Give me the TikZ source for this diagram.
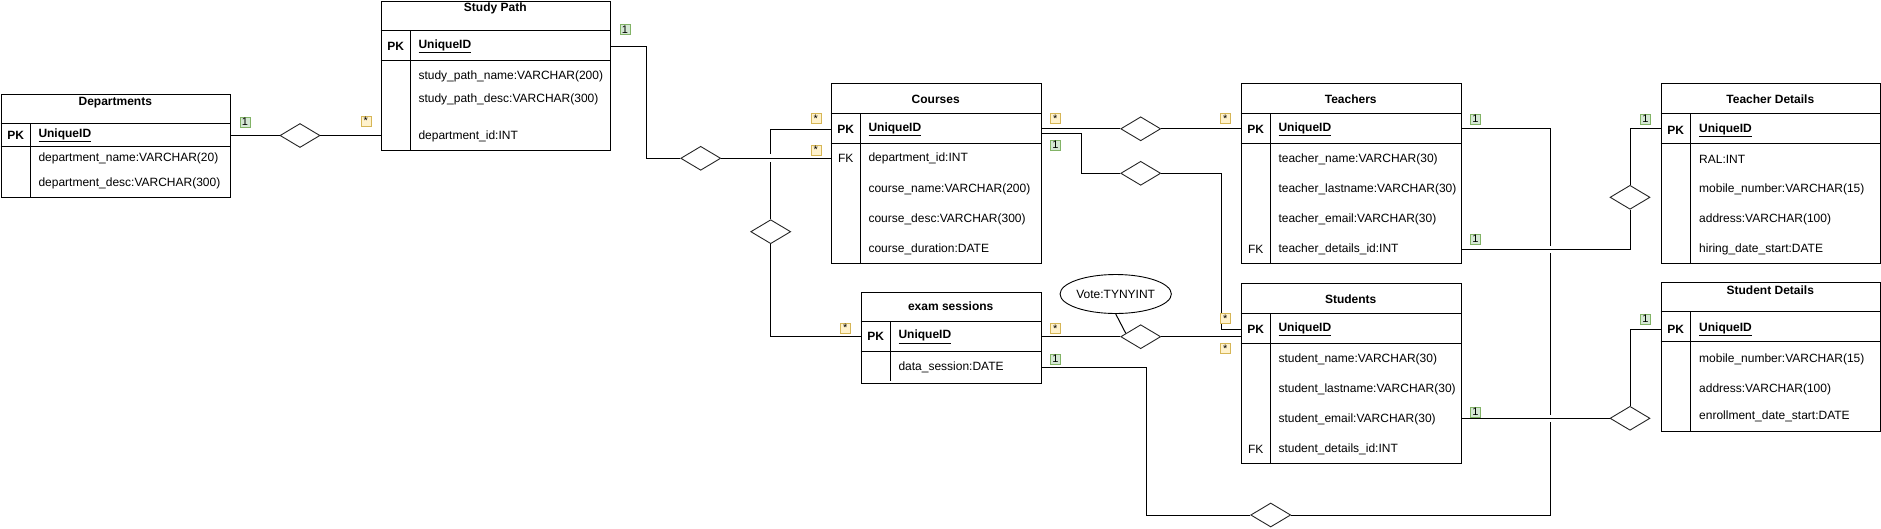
\documentclass[tikz,border=0pt]{standalone}
\usepackage{fontspec}
\setmainfont{Liberation Sans}
\usetikzlibrary{shapes.geometric,calc}
\definecolor{onefill}{HTML}{D5E8D4}
\definecolor{oneline}{HTML}{82B366}
\definecolor{manyfill}{HTML}{FFF2CC}
\definecolor{manyline}{HTML}{D6B656}
\tikzset{
  tbl/.style={draw, line width=1pt, rectangle, inner sep=0pt, anchor=north west},
  ttl/.style={font=\fontsize{12}{14}\selectfont\bfseries, inner sep=0pt},
  key/.style={font=\fontsize{12}{14}\selectfont\bfseries, inner sep=0pt},
  fkey/.style={font=\fontsize{12}{14}\selectfont, inner sep=0pt},
  fld/.style={font=\fontsize{12}{14}\selectfont, anchor=west, inner sep=0pt},
  idfld/.style={fld, font=\fontsize{12}{14}\selectfont\bfseries},
  rel/.style={draw=black!85, diamond, line width=0.9pt, minimum width=40pt, minimum height=24pt, inner sep=0pt, fill=white},
  link/.style={line width=1pt},
  one/.style={draw=oneline, fill=onefill, font=\fontsize{11}{11}\selectfont, inner sep=0pt, minimum width=10pt, minimum height=10pt},
  many/.style={draw=manyline, fill=manyfill, font=\fontsize{11}{11}\selectfont, inner sep=0pt, minimum width=10pt, minimum height=10pt}
}
\begin{document}
\begin{tikzpicture}[x=1pt,y=-1pt]
\useasboundingbox (0,0) rectangle (1881,528);

% Departments
\node[tbl, minimum width=229.3pt, minimum height=102.7pt] (dep) at (0.7,94) {};
\draw[link] (0.7,123.3) -- (230,123.3) (0.7,146.7) -- (230,146.7) (30.7,123.3) -- (30.7,196.7);
\node[ttl] (dep-t) at (115.3,102.7) {Departments};
\node[key] (dep-pk) at (15.7,135) {PK};
\node[idfld] (dep-id) at (38.3,135) {\underline{UniqueID}};
\foreach \y/\t [count=\i] in {158.3/department\_name:VARCHAR(20), 183.3/department\_desc:VARCHAR(300)}
  \node[fld] (dep-f\i) at (38.3,\y) {\t};

% Study Path
\node[tbl, minimum width=229.3pt, minimum height=149pt] (sp) at (380.7,1) {};
\draw[link] (380.7,30.7) -- (610,30.7) (380.7,60.7) -- (610,60.7) (410.7,30.7) -- (410.7,150);
\node[ttl] (sp-t) at (495.3,8.3) {Study Path};
\node[key] (sp-pk) at (395.7,46) {PK};
\node[idfld] (sp-id) at (418.3,46) {\underline{UniqueID}};
\foreach \y/\t [count=\i] in {76.7/study\_path\_name:VARCHAR(200), 99/study\_path\_desc:VARCHAR(300), 136/department\_id:INT}
  \node[fld] (sp-f\i) at (418.3,\y) {\t};

% Courses
\node[tbl, minimum width=210pt, minimum height=180pt] (cou) at (830.7,83.3) {};
\draw[link] (830.7,113.3) -- (1040.7,113.3) (830.7,143.3) -- (1040.7,143.3) (860.7,113.3) -- (860.7,263.3);
\node[ttl] (cou-t) at (935.7,99) {Courses};
\node[key] (cou-pk) at (845.7,129.3) {PK};
\node[idfld] (cou-id) at (868.3,129.3) {\underline{UniqueID}};
\node[fkey] (cou-fk) at (845.7,158.3) {FK};
\foreach \y/\t [count=\i] in {158.3/department\_id:INT, 189/course\_name:VARCHAR(200), 219/course\_desc:VARCHAR(300), 249/course\_duration:DATE}
  \node[fld] (cou-f\i) at (868.3,\y) {\t};

% exam sessions
\node[tbl, minimum width=180pt, minimum height=91.6pt] (exam) at (860.7,291.7) {};
\draw[link] (860.7,321.7) -- (1040.7,321.7) (860.7,351.3) -- (1040.7,351.3) (890.7,321.7) -- (890.7,380.7);
\node[ttl] (exam-t) at (950.7,306) {exam sessions};
\node[key] (exam-pk) at (875.7,336.7) {PK};
\node[idfld] (exam-id) at (898.3,336.7) {\underline{UniqueID}};
\node[fld] (exam-f1) at (898.3,367.3) {data\_session:DATE};

% Teachers
\node[tbl, minimum width=220pt, minimum height=180pt] (tea) at (1240.7,83.3) {};
\draw[link] (1240.7,113.3) -- (1460.7,113.3) (1240.7,143.3) -- (1460.7,143.3) (1270.7,113.3) -- (1270.7,263.3);
\node[ttl] (tea-t) at (1350.7,99) {Teachers};
\node[key] (tea-pk) at (1255.7,129) {PK};
\node[idfld] (tea-id) at (1278.3,129) {\underline{UniqueID}};
\node[fkey] (tea-fk) at (1255.7,249) {FK};
\foreach \y/\t [count=\i] in {159/teacher\_name:VARCHAR(30), 189/teacher\_lastname:VARCHAR(30), 219/teacher\_email:VARCHAR(30), 249/teacher\_details\_id:INT}
  \node[fld] (tea-f\i) at (1278.3,\y) {\t};

% Students
\node[tbl, minimum width=220pt, minimum height=180pt] (stu) at (1240.7,283.3) {};
\draw[link] (1240.7,313.3) -- (1460.7,313.3) (1240.7,343.3) -- (1460.7,343.3) (1270.7,313.3) -- (1270.7,463.3);
\node[ttl] (stu-t) at (1350.7,299) {Students};
\node[key] (stu-pk) at (1255.7,329) {PK};
\node[idfld] (stu-id) at (1278.3,329) {\underline{UniqueID}};
\node[fkey] (stu-fk) at (1255.7,449) {FK};
\foreach \y/\t [count=\i] in {359/student\_name:VARCHAR(30), 389/student\_lastname:VARCHAR(30), 419/student\_email:VARCHAR(30), 449/student\_details\_id:INT}
  \node[fld] (stu-f\i) at (1278.3,\y) {\t};

% Teacher Details
\node[tbl, minimum width=219.3pt, minimum height=180pt] (td) at (1660.7,83.3) {};
\draw[link] (1660.7,113.3) -- (1880,113.3) (1660.7,143) -- (1880,143) (1690.7,113.3) -- (1690.7,263.3);
\node[ttl] (td-t) at (1770.3,99) {Teacher Details};
\node[key] (td-pk) at (1675.7,130) {PK};
\node[idfld] (td-id) at (1699,130) {\underline{UniqueID}};
\foreach \y/\t [count=\i] in {159/RAL:INT, 189/mobile\_number:VARCHAR(15), 219/address:VARCHAR(100), 249/hiring\_date\_start:DATE}
  \node[fld] (td-f\i) at (1699,\y) {\t};

% Student Details
\node[tbl, minimum width=219.3pt, minimum height=148.7pt] (sd) at (1660.7,282.3) {};
\draw[link] (1660.7,311.7) -- (1880,311.7) (1660.7,341) -- (1880,341) (1690.7,311.7) -- (1690.7,431);
\node[ttl] (sd-t) at (1770.3,290) {Student Details};
\node[key] (sd-pk) at (1675.7,329.3) {PK};
\node[idfld] (sd-id) at (1699,329.3) {\underline{UniqueID}};
\foreach \y/\t [count=\i] in {359/mobile\_number:VARCHAR(15), 389/address:VARCHAR(100), 416.7/enrollment\_date\_start:DATE}
  \node[fld] (sd-f\i) at (1699,\y) {\t};

% relationships
\node[rel] (r1) at (300,135.5) {};
\node[rel] (r2) at (700.7,158.3) {};
\node[rel] (r3) at (770.7,231.7) {};
\node[rel] (r4) at (1140.7,128.8) {};
\node[rel] (r5) at (1140.7,173.3) {};
\node[rel] (r6) at (1140.7,336.7) {};
\node[rel] (r7) at (1270.7,515) {};
\node[rel] (r8) at (1630,197.3) {};
\node[rel] (r9) at (1630,418.3) {};
\node[draw, ellipse, line width=0.9pt, minimum width=91pt, minimum height=39pt, inner sep=0pt, font=\fontsize{12}{14}\selectfont] (vote) at (1115.7,294) {Vote:TYNYINT};
\coordinate (bend) at (1550.7,515);

\draw[link] (dep.east |- r1) -- (r1.west) (r1.east) -- (sp.west |- r1);
\draw[link] (sp.east |- sp-id) -- ++(35,0) |- (r2.west) (r2.east) -- (cou.west |- r2);
\draw[link] (cou.west |- cou-id) -- (r3 |- cou-id) -- ($(r3 |- r2)+(0,-4)$)
  ($(r3 |- r2)+(0,4)$) -- (r3.north) (r3.south) |- (exam.west |- exam-id);
\draw[link] (cou.east |- r4) -- (r4.west) (r4.east) -- (tea.west |- r4);
\draw[link] ($(cou.east |- r4)+(0,5)$) -- ++(40,0) |- (r5.west) (r5.east) -- ++(60,0) |- (stu.west |- stu-id);
\draw[link] (exam.east |- exam-id) -- (r6.west) (r6.east) -- (stu.west |- r6);
\draw[link] (vote.south) -- ($(r6.west)!0.27!(r6.north)$);
\draw[link] (exam.east |- exam-f1) -- ++(105,0) |- (r7.west) (r7.east) -- (bend) -- ($(bend |- r9)+(0,3.5)$)
  ($(bend |- r9)+(0,-3.5)$) -- ($(bend |- tea-f4)+(0,3.5)$)
  ($(bend |- tea-f4)+(0,-3.5)$) |- (tea.east |- r4);
\draw[link] (tea.east |- tea-f4) -| (r8.south) (r8.north) |- (td.west |- r4);
\draw[link] (stu.east |- r9) -- (r9.west) (r9.north) |- (sd.west |- stu-id);

% cardinalities
\foreach \p [count=\i] in {(245,121.7), (625,29.3), (1055.3,145), (1055.3,359), (1475.3,119), (1475.3,239), (1645.3,118.7), (1475.3,411.7), (1645.3,318.7)}
  \node[one] (one\i) at \p {1};
\foreach \p [count=\i] in {(365.7,120.7), (815.7,118.3), (815.7,150), (845.3,328), (1055.3,118.3), (1225.3,118.3), (1225.3,318.3), (1055.3,328.3), (1225.3,348.3)}
  \node[many] (many\i) at \p {*};
\end{tikzpicture}
\end{document}
